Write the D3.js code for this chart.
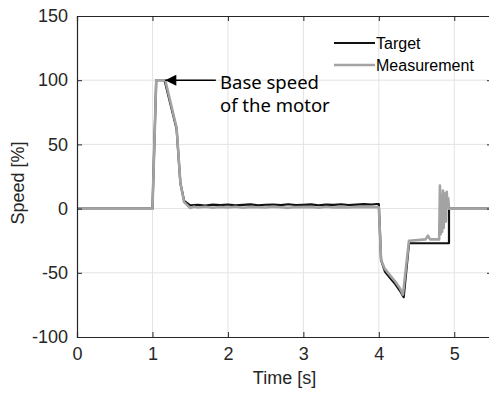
<!DOCTYPE html>
<html>
<head>
<meta charset="utf-8">
<script src="https://cdn.jsdelivr.net/npm/d3@7"></script>
<style>
  body { margin: 0; background: #fff; }
  .tick text { font-family: "Liberation Sans", Arial, sans-serif; font-size: 18px; fill: #262626; }
</style>
</head>
<body>
<div class="container"></div>
<script>
// svg container
var svgWidth = 489;
var svgHeight = 393;

var margin = { top: 16, right: -3, bottom: 56, left: 77 };
var width = svgWidth - margin.left - margin.right;
var height = svgHeight - margin.top - margin.bottom;

// target speed [%]
var targetTime = [0, 1.0, 1.05, 1.16, 1.32, 1.37, 1.42, 1.5,
  1.6, 1.7, 1.8, 1.9, 2.0, 2.1, 2.2, 2.3, 2.4, 2.5, 2.6, 2.7, 2.8, 2.9, 3.0,
  3.1, 3.2, 3.3, 3.4, 3.5, 3.6, 3.7, 3.8, 3.9, 3.98,
  4.0, 4.03, 4.08, 4.15, 4.22, 4.28, 4.33, 4.4, 4.93, 4.93, 5.5];
var targetSpeed = [0, 0, 100, 100, 62, 20, 6, 2.5,
  3, 2.4, 3.1, 2.7, 3.2, 2.5, 2.9, 3.3, 2.6, 3.0, 3.2, 2.7, 3.4, 2.8, 3.0,
  3.3, 2.6, 3.1, 2.9, 3.4, 2.8, 3.1, 3.5, 3.2, 3.6,
  3.6, -40, -49, -54, -59, -64, -69, -27, -27, 0, 0];

// measured speed [%]
var measTime = [0, 1.0, 1.05, 1.17, 1.32, 1.37, 1.42, 1.5,
  1.55, 1.6, 1.7, 1.8, 1.9, 2.0, 2.1, 2.2, 2.3, 2.4, 2.5, 2.6, 2.7, 2.8, 2.9, 3.0,
  3.1, 3.2, 3.3, 3.4, 3.5, 3.6, 3.7, 3.8, 3.9, 4.0,
  4.03, 4.08, 4.15, 4.22, 4.28, 4.32, 4.4, 4.62, 4.65, 4.68, 4.8,
  4.81, 4.82, 4.83, 4.84, 4.85, 4.86, 4.87, 4.88, 4.89, 4.9, 4.91, 4.92, 4.93, 5.5];
var measSpeed = [0, 0, 100, 100, 63, 20, 5, 0.5,
  1.5, 0.8, 1.4, 0.6, 1.2, 0.9, 1.5, 0.7, 1.3, 1.0, 0.8, 1.4, 1.1, 0.6, 1.3, 1.0,
  1.2, 0.7, 1.4, 0.9, 1.1, 0.8, 1.3, 1.0, 1.2, 1.0,
  -40, -47, -52, -57, -62, -67, -25, -24, -21, -24, -24,
  18, -20, 10, -18, 14, -15, 8, 12, -10, 13, 2, 8, 0, 0];

var xTicks = [0, 1, 2, 3, 4, 5];
var yTicks = [-100, -50, 0, 50, 100, 150];

var svg = d3.select(".container")
  .append("svg")
  .attr("width", svgWidth)
  .attr("height", svgHeight);

var chartGroup = svg.append("g")
  .attr("transform", `translate(${margin.left}, ${margin.top})`);

var xScale = d3.scaleLinear().domain([0, 5.5]).range([0, width]);
var yScale = d3.scaleLinear().domain([-100, 150]).range([height, 0]);

// grid
chartGroup.append("g")
  .selectAll("line.gx")
  .data(xTicks.filter(d => d > 0))
  .enter().append("line")
  .attr("x1", d => xScale(d)).attr("x2", d => xScale(d))
  .attr("y1", 0).attr("y2", height)
  .attr("stroke", "#e3e3e3").attr("stroke-width", 1);

chartGroup.append("g")
  .selectAll("line.gy")
  .data(yTicks.filter(d => d > -100 && d < 150))
  .enter().append("line")
  .attr("x1", 0).attr("x2", width)
  .attr("y1", d => yScale(d)).attr("y2", d => yScale(d))
  .attr("stroke", "#e3e3e3").attr("stroke-width", 1);

// lines
var line = d3.line()
  .x(d => xScale(d[0]))
  .y(d => yScale(d[1]));

chartGroup.append("path")
  .datum(targetTime.map((t, i) => [t, targetSpeed[i]]))
  .attr("d", line)
  .attr("fill", "none")
  .attr("stroke", "#111")
  .attr("stroke-width", 2.2)
  .attr("stroke-linejoin", "round");

chartGroup.append("path")
  .datum(measTime.map((t, i) => [t, measSpeed[i]]))
  .attr("d", line)
  .attr("fill", "none")
  .attr("stroke", "#a3a3a3")
  .attr("stroke-width", 2.6)
  .attr("stroke-linejoin", "round");

// axes, ticks inward, plain hyphen for negatives
var bottomAxis = d3.axisBottom(xScale).tickValues(xTicks).tickSize(-5).tickPadding(10).tickFormat(d => String(d));
var leftAxis = d3.axisLeft(yScale).tickValues(yTicks).tickSize(-5).tickPadding(9).tickFormat(d => String(d));
var topAxis = d3.axisTop(xScale).tickValues(xTicks).tickSize(-5).tickFormat("");
var rightAxis = d3.axisRight(yScale).tickValues(yTicks).tickSize(-5).tickFormat("");

function styleAxis(g) {
  g.select(".domain").attr("stroke", "#262626").attr("stroke-width", 1.2);
  g.selectAll(".tick line").attr("stroke", "#262626");
}

chartGroup.append("g").attr("transform", `translate(0, ${height})`).call(bottomAxis).call(styleAxis);
chartGroup.append("g").call(leftAxis).call(styleAxis);
chartGroup.append("g").call(topAxis).call(styleAxis);
chartGroup.append("g").attr("transform", `translate(${width}, 0)`).call(rightAxis).call(styleAxis);

// axis labels
svg.append("text")
  .attr("transform", "rotate(-90)")
  .attr("x", -183)
  .attr("y", 24)
  .attr("text-anchor", "middle")
  .attr("font-family", "Liberation Sans, Arial, sans-serif")
  .attr("font-size", 18)
  .attr("fill", "#262626")
  .text("Speed [%]");

svg.append("text")
  .attr("x", margin.left + width / 2)
  .attr("y", 384)
  .attr("text-anchor", "middle")
  .attr("font-family", "Liberation Sans, Arial, sans-serif")
  .attr("font-size", 18)
  .attr("fill", "#262626")
  .text("Time [s]");

// legend
var legendItems = [["Target", "#111", 2.2], ["Measurement", "#a3a3a3", 2.6]];
var legend = svg.append("g");
legendItems.forEach(function(item, i) {
  var y = 43 + i * 22;
  legend.append("line")
    .attr("x1", 334).attr("x2", 375)
    .attr("y1", y).attr("y2", y)
    .attr("stroke", item[1]).attr("stroke-width", item[2]);
  legend.append("text")
    .attr("x", 376).attr("y", y + 6)
    .attr("font-family", "Liberation Sans, Arial, sans-serif")
    .attr("font-size", 16)
    .attr("fill", "#000")
    .text(item[0]);
});

// annotation arrow
svg.append("defs").append("marker")
  .attr("id", "arrow")
  .attr("viewBox", "0 0 10 10")
  .attr("refX", 10).attr("refY", 5)
  .attr("markerWidth", 13).attr("markerHeight", 11)
  .attr("markerUnits", "userSpaceOnUse")
  .attr("orient", "auto")
  .append("path")
  .attr("d", "M0,0L10,5L0,10Z")
  .attr("fill", "#000");

svg.append("line")
  .attr("x1", margin.left + xScale(1.84)).attr("y1", margin.top + yScale(100))
  .attr("x2", margin.left + xScale(1.17)).attr("y2", margin.top + yScale(100))
  .attr("stroke", "#000").attr("stroke-width", 1.5)
  .attr("marker-end", "url(#arrow)");

var note = svg.append("text")
  .attr("font-family", "Noto Sans, Open Sans, sans-serif")
  .attr("font-size", 18.5)
  .attr("fill", "#000");
note.append("tspan").attr("x", 220).attr("y", 89).text("Base speed");
note.append("tspan").attr("x", 220).attr("y", 112).text("of the motor");
</script>
</body>
</html>
